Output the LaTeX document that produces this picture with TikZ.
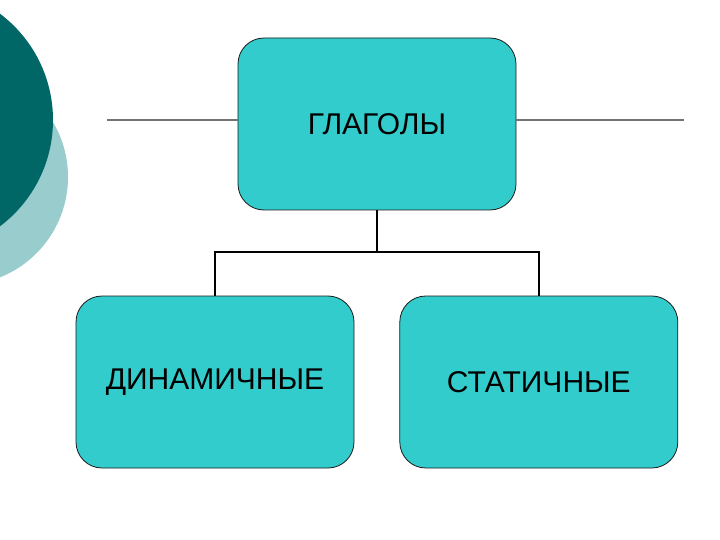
\documentclass[tikz,border=0pt]{standalone}
\usepackage{fontspec}
\setmainfont{Liberation Sans}
\usepackage{xcolor}
\usetikzlibrary{positioning}
\definecolor{Deep}{HTML}{006666}
\definecolor{Pale}{HTML}{99CCCC}
\definecolor{Aqua}{HTML}{33CCCC}
\definecolor{Ink}{HTML}{1A1A1A}

\begin{document}
\begin{tikzpicture}[
    x=1pt, y=-1pt,
    box/.style={draw=Ink, line width=0.8pt, fill=Aqua, rounded corners=26pt, minimum width=278pt, minimum height=172pt, align=center, font=\fontsize{30}{34}\selectfont},
    fork/.style={line width=2pt, draw=black},
    rule/.style={line width=1.2pt, draw=black!55}
  ]
    \useasboundingbox (0,0) rectangle (720,540);
    \fill[white] (0,0) rectangle (720,540);

    % circles at the left edge
    \begin{scope}
      \clip (0,0) rectangle (720,540);
      \fill[Pale] (-40,177) circle (108pt);
      \fill[Deep] (-80,120) circle (133pt);
    \end{scope}

    \node[box] (glag) at (377,124) {ГЛАГОЛЫ};
    \node[box] (din) at (215,382) {ДИНАМИЧНЫЕ};
    \node[box, right=45pt of din] (stat) {СТАТИЧНЫЕ};

    \coordinate (lleft) at (107,120);
    \coordinate (lright) at (684,120);
    \draw[rule] (lleft) -- (lleft -| glag.west);
    \draw[rule] (glag.east |- lright) -- (lright);

    \coordinate (split) at ([yshift=-42pt]glag.south);
    \draw[fork] (glag.south) -- (split);
    \draw[fork] (split) -| (din.north);
    \draw[fork] (split) -| (stat.north);
  \end{tikzpicture}
\end{document}
